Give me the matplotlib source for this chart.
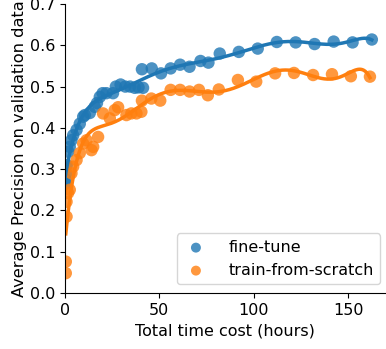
import numpy as np
import matplotlib
matplotlib.use("Agg")
import matplotlib.pyplot as plt

ft_x = [0.3, 0.5, 0.8, 1.0, 1.8, 2.6, 3.5, 4.4, 6.2, 7.9, 9.7, 10.6, 13.2, 15.8, 17.0, 18.5,
        20.0, 22.0, 25.5, 27.0, 29.5, 32.0, 34.5, 37.0, 39.0, 41.4, 40.8, 46.0, 50.9, 56.0,
        61.0, 66.0, 71.8, 76.0, 82.0, 92.1, 102.1, 112.2, 122.2, 132.2, 142.3, 152.3, 162.5]
ft_y = [0.265, 0.275, 0.29, 0.31, 0.342, 0.354, 0.37, 0.382, 0.395, 0.41, 0.427, 0.431, 0.436,
        0.451, 0.46, 0.475, 0.484, 0.484, 0.484, 0.50, 0.505, 0.50, 0.50, 0.497, 0.498, 0.497,
        0.542, 0.544, 0.532, 0.544, 0.553, 0.548, 0.562, 0.558, 0.580, 0.584, 0.592, 0.608,
        0.607, 0.603, 0.609, 0.607, 0.614]

ts_x = [0.5, 0.5, 0.9, 0.9, 1.7, 2.6, 3.5, 4.4, 6.2, 7.9, 9.7, 11.5, 14.1, 15.0, 17.6, 20.2,
        23.8, 26.4, 28.2, 32.6, 35.2, 37.9, 40.5, 40.8, 45.8, 50.5, 56.0, 61.0, 66.0, 71.0,
        75.7, 81.5, 91.6, 101.3, 111.3, 121.3, 131.4, 141.4, 151.4, 161.5]
ts_y = [0.048, 0.076, 0.185, 0.221, 0.242, 0.25, 0.29, 0.306, 0.322, 0.339, 0.362, 0.370,
        0.346, 0.354, 0.378, 0.435, 0.423, 0.443, 0.45, 0.431, 0.435, 0.435, 0.439, 0.466,
        0.471, 0.466, 0.492, 0.492, 0.488, 0.492, 0.479, 0.493, 0.516, 0.512, 0.532, 0.533,
        0.528, 0.530, 0.525, 0.524]

labels = ["fine-tune", "train-from-scratch"]
colors = ["#1f77b4", "#ff7f0e"]

fig = plt.figure(figsize=(3.86, 3.49), dpi=100)
ax = fig.add_axes([0.168, 0.1605, 0.832, 0.828])

for xs, ys, lab, c in [(ft_x, ft_y, labels[0], colors[0]), (ts_x, ts_y, labels[1], colors[1])]:
    xs = np.array(xs); ys = np.array(ys)
    ax.scatter(xs, ys, s=80, color=c, alpha=0.8, edgecolors='none', label=lab)
    coef = np.polyfit(xs / 160.0, ys, 8)
    xx = np.linspace(xs.min(), xs.max(), 400)
    ax.plot(xx, np.polyval(coef, xx / 160.0), color=c, lw=2.5)

ax.set_xlim(0, 170)
ax.set_ylim(0, 0.7)
ax.set_xticks([0, 50, 100, 150])
ax.tick_params(labelsize=11.5)
ax.spines['top'].set_visible(False)
ax.spines['right'].set_visible(False)
ax.set_xlabel("Total time cost (hours)", fontsize=11.5)
ax.set_ylabel("Average Precision on validation data", fontsize=11.7, labelpad=2)
ax.legend(loc='lower right', bbox_to_anchor=(1.01, 0.0), fontsize=11.5, markerscale=0.8,
          handlelength=1.6, handletextpad=1.25, borderaxespad=0.55)
fig.savefig("out.png", dpi=100)
